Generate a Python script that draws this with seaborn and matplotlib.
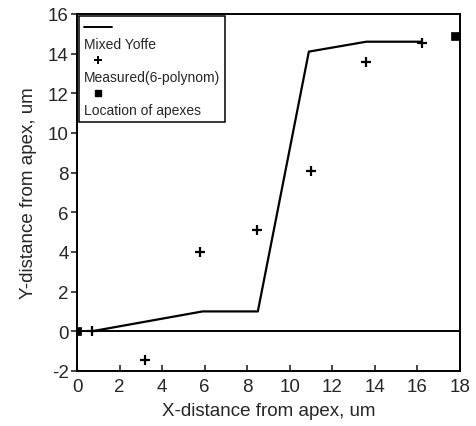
import matplotlib
matplotlib.use("Agg")
import matplotlib.pyplot as plt
from matplotlib.lines import Line2D
import seaborn as sns
import pandas as pd

# Data
line_x = [0.7, 5.9, 8.5, 10.9, 13.6, 16.2]
line_y = [0.0, 1.0, 1.0, 14.1, 14.6, 14.6]

meas_x = [0.7, 3.2, 5.8, 8.45, 11.0, 13.6, 16.2]
meas_y = [0.0, -1.45, 4.0, 5.1, 8.1, 13.6, 14.55]

apex_x = [0.0, 17.75]
apex_y = [0.0, 14.9]

x_ticks = list(range(0, 19, 2))
y_ticks = list(range(-2, 17, 2))

sns.set_theme(style="ticks")
plt.rcParams['font.family'] = ['Liberation Sans', 'DejaVu Sans']
plt.rcParams['axes.unicode_minus'] = False

fig = plt.figure(figsize=(4.76, 4.27), dpi=100)
ax = fig.add_axes([0.162, 0.129, 0.804, 0.836])

df_line = pd.DataFrame({"x": line_x, "y": line_y})
df_meas = pd.DataFrame({"x": meas_x, "y": meas_y})
df_apex = pd.DataFrame({"x": apex_x, "y": apex_y})

sns.lineplot(data=df_line, x="x", y="y", ax=ax, color="black", lw=1.6,
             sort=False, estimator=None)
ax.axhline(0, color="black", lw=1.4, zorder=1)
sns.scatterplot(data=df_meas, x="x", y="y", ax=ax, marker="+", s=60,
                color="black", linewidth=1.6, zorder=3)
sns.scatterplot(data=df_apex, x="x", y="y", ax=ax, marker="s", s=40,
                color="black", edgecolor="black", zorder=4)

ax.set_xlim(0, 18)
ax.set_ylim(-2, 16)
ax.set_xticks(x_ticks)
ax.set_yticks(y_ticks)
ax.tick_params(axis="x", direction="in", length=4, width=1.2, labelsize=13.5, pad=5)
ax.tick_params(axis="y", direction="out", length=4, width=1.2, labelsize=13.5, pad=2)
for sp in ax.spines.values():
    sp.set_visible(True)
    sp.set_linewidth(1.4)
    sp.set_color("black")

ax.set_xlabel("X-distance from apex, um", fontsize=13.5, labelpad=5)
ax.set_ylabel("Y-distance from apex, um", fontsize=13.5, labelpad=8)

blank = Line2D([], [], linestyle="none", marker=None)
h_line = Line2D([], [], color="black", lw=1.4)
h_plus = Line2D([], [], color="black", linestyle="none", marker="+", markersize=6, mew=1.4)
h_sq = Line2D([], [], color="black", linestyle="none", marker="s", markersize=5)
handles = [h_line, blank, h_plus, blank, h_sq, blank]
labels = ["", "Mixed Yoffe", "", "Measured(6-polynom)", "", "Location of apexes"]
leg = ax.legend(handles, labels, loc="upper left", fontsize=10, frameon=True,
                fancybox=False, edgecolor="black", handlelength=2.0,
                handletextpad=-2.0, labelspacing=0.18, borderpad=0.35,
                borderaxespad=0.15, numpoints=1)
leg.get_frame().set_linewidth(1.1)
leg.get_frame().set_alpha(1)

fig.savefig("out.png", dpi=100)
